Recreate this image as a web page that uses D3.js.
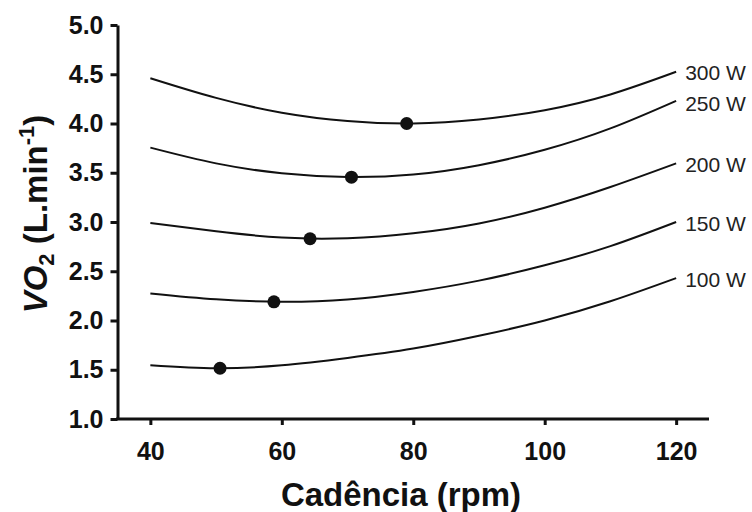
<!DOCTYPE html>
<html>
<head>
<meta charset="utf-8">
<script src="https://cdn.jsdelivr.net/npm/d3@7"></script>
<style>
    body { margin: 0; background: #fff; }
    svg { display: block; font-family: "Liberation Sans", Arial, sans-serif; }
    .axis path, .axis line { stroke: #111; stroke-width: 3; }
    .axis text { font-size: 25px; font-weight: bold; fill: #111; }
    .title { font-size: 33px; font-weight: bold; fill: #111; }
    .curve { fill: none; stroke: #111; stroke-width: 2; }
    .series-label { font-size: 21px; fill: #222; }
</style>
</head>
<body>
<svg id="chart" width="752" height="512"></svg>
<script>
// cadence (rpm) at which each curve was read
const cadences = [40, 50, 60, 70, 80, 90, 100, 110, 120]
const powers = [100, 150, 200, 250, 300]

// VO2 (L/min)
const vo2_100 = [1.545, 1.515, 1.545, 1.62, 1.715, 1.845, 2.0, 2.195, 2.43]
const vo2_150 = [2.275, 2.215, 2.19, 2.213, 2.29, 2.405, 2.56, 2.755, 3.0]
const vo2_200 = [2.99, 2.905, 2.842, 2.835, 2.885, 2.985, 3.145, 3.355, 3.595]
const vo2_250 = [3.755, 3.595, 3.495, 3.457, 3.482, 3.577, 3.733, 3.95, 4.23]
const vo2_300 = [4.46, 4.26, 4.11, 4.025, 4.0, 4.04, 4.135, 4.295, 4.525]

// optimal cadence (curve minimum) for each power
const minCadence = [50.6, 58.8, 64.3, 70.6, 79.0]
const minVo2 = [1.515, 2.19, 2.83, 3.455, 4.0]

const xTicks = [40, 60, 80, 100, 120]
const yTicks = [1.0, 1.5, 2.0, 2.5, 3.0, 3.5, 4.0, 4.5, 5.0]

const series = [vo2_100, vo2_150, vo2_200, vo2_250, vo2_300]

function main() {
    const svg = d3.select('#chart')

    const x = d3.scaleLinear().domain([35, 125]).range([117.5, 709])
    const y = d3.scaleLinear().domain([1, 5]).range([419, 25])

    svg.append('g')
        .attr('class', 'axis')
        .attr('transform', `translate(0,${y(1)})`)
        .call(d3.axisBottom(x).tickValues(xTicks).tickSize(6).tickSizeOuter(0).tickPadding(17))
        .call(g => g.select('.domain').attr('d', `M${x(35) - 1.5},0H${x(125)}`))

    svg.append('g')
        .attr('class', 'axis')
        .attr('transform', `translate(${x(35)},0)`)
        .call(d3.axisLeft(y).tickValues(yTicks).tickFormat(d3.format('.1f')).tickSize(7).tickSizeOuter(0).tickPadding(7))

    const line = d3.line()
        .x((d, i) => x(cadences[i]))
        .y(d => y(d))
        .curve(d3.curveNatural)

    svg.selectAll()
        .data(series)
        .enter()
        .append('path')
        .attr('class', 'curve')
        .attr('d', d => line(d))

    svg.selectAll()
        .data(minCadence)
        .enter()
        .append('circle')
        .attr('cx', d => x(d))
        .attr('cy', (d, i) => y(minVo2[i]))
        .attr('r', 6.5)
        .attr('fill', '#111')

    svg.selectAll()
        .data(series)
        .enter()
        .append('text')
        .attr('class', 'series-label')
        .attr('x', x(120) + 9)
        .attr('y', (d, i) => y(d[d.length - 1]) + (i === 3 ? 3 : 1))
        .attr('dominant-baseline', 'central')
        .text((d, i) => `${powers[i]} W`)

    svg.append('text')
        .attr('class', 'title')
        .attr('x', 401)
        .attr('y', 506)
        .attr('text-anchor', 'middle')
        .text('Cadência (rpm)')

    const yTitle = svg.append('text')
        .attr('class', 'title')
        .attr('text-anchor', 'middle')
        .attr('transform', 'translate(47,214) rotate(-90)')
    yTitle.append('tspan').attr('font-style', 'italic').text('VO')
    yTitle.append('tspan').attr('font-size', '22px').attr('dy', 7).text('2')
    yTitle.append('tspan').attr('dy', -7).text(' (L.min')
    yTitle.append('tspan').attr('font-size', '22px').attr('dy', -13).text('-1')
    yTitle.append('tspan').attr('dy', 13).text(')')
}

main()
</script>
</body>
</html>
